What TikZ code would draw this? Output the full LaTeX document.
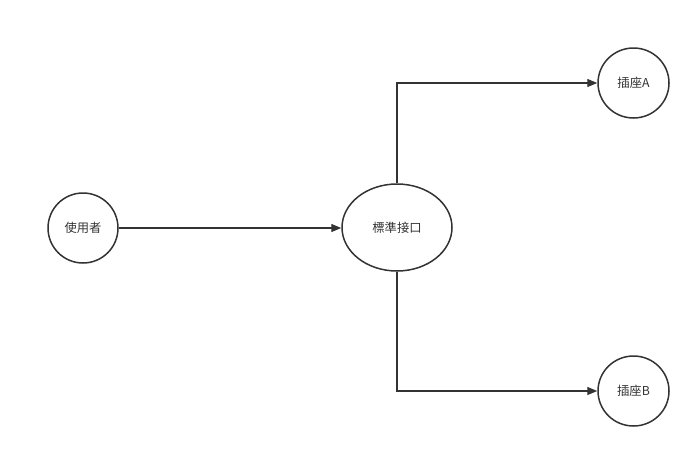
\documentclass[tikz,border=0pt]{standalone}
\usepackage{fontspec}
\newfontfamily\cjk{Noto Sans CJK TC}
\usetikzlibrary{arrows.meta,shapes.geometric}
\definecolor{ln}{HTML}{333333}
\begin{document}
\begin{tikzpicture}[x=1pt,y=-1pt,
  every node/.style={font=\cjk\fontsize{12.3}{13}\selectfont, text=ln},
  ell/.style={draw=ln, line width=1.5pt, ellipse, inner sep=0pt},
  conn/.style={draw=ln, line width=1.3pt, -{Triangle[length=10pt,width=8pt]}}]
\useasboundingbox (0,0) rectangle (700,458);
\node[ell, minimum width=70pt, minimum height=70pt] (u) at (83,228) {使用者};
\node[ell, minimum width=110pt, minimum height=87pt] (s) at (397,227.5) {標準接口};
\node[ell, minimum width=71pt, minimum height=70pt] (a) at (633.5,83) {插座A};
\node[ell, minimum width=71pt, minimum height=70pt] (b) at (633.5,391) {插座B};
\draw[conn] (u.east) -- (u.east -| s.west);
\draw[conn] (s.north) |- (a.west);
\draw[conn] (s.south) |- (b.west);
\end{tikzpicture}
\end{document}
